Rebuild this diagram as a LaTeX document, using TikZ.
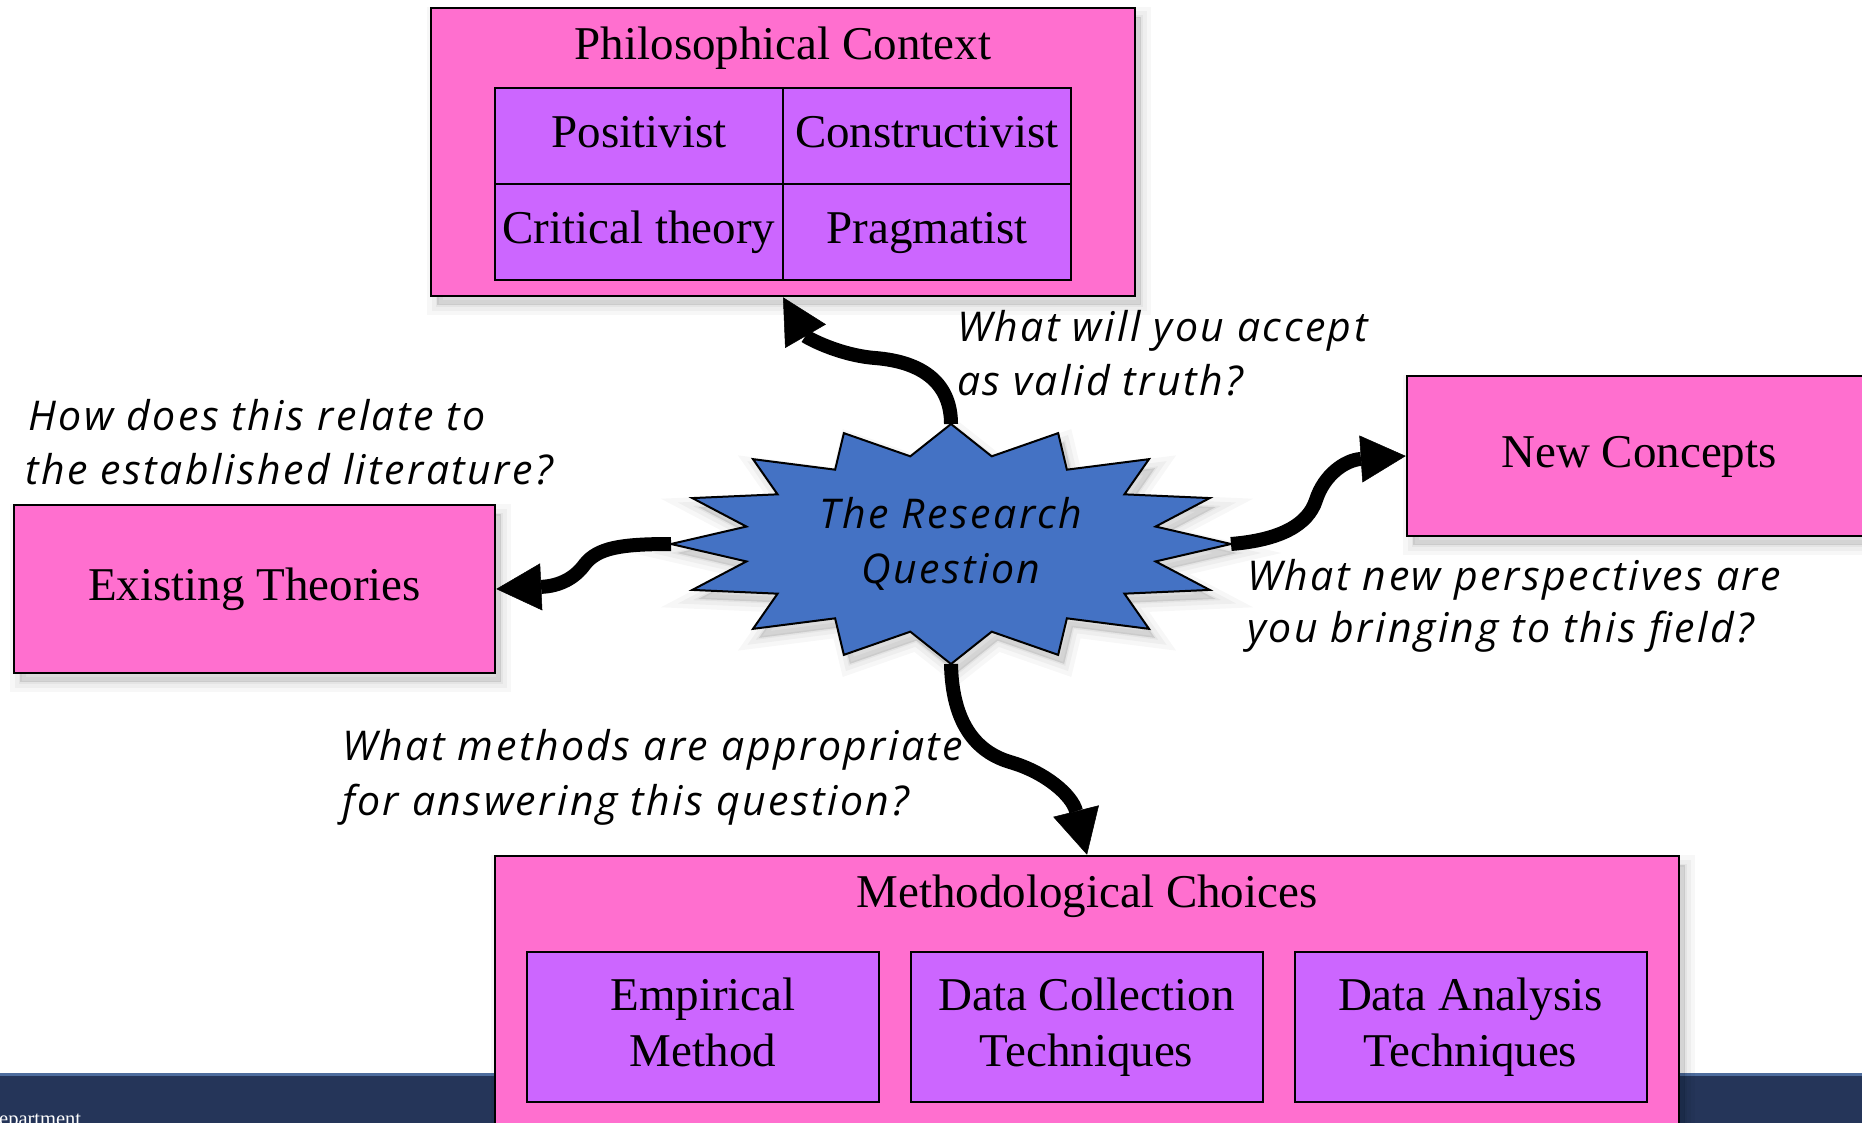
\documentclass[tikz,border=0pt]{standalone}
\usepackage{fontspec}
\setmainfont{Liberation Serif}
\newfontfamily\handfont{Open Sans}[LetterSpace=6.0]
\usetikzlibrary{arrows.meta}
\definecolor{boxpink}{HTML}{FF6FCF}
\definecolor{boxpurple}{HTML}{CC66FF}
\definecolor{starblue}{HTML}{4472C4}
\definecolor{barblue}{HTML}{253559}
\definecolor{barline}{HTML}{4E6D9E}
\tikzset{
  softshadow/.style={
    preaction={draw=black, draw opacity=0.03, line width=20pt, fill=black, fill opacity=0.03, transform canvas={shift={(6pt,-9pt)}}},
    preaction={draw=black, draw opacity=0.035, line width=11pt, fill=black, fill opacity=0.035, transform canvas={shift={(6pt,-9pt)}}},
    preaction={draw=black, draw opacity=0.04, line width=3pt, fill=black, fill opacity=0.04, transform canvas={shift={(6pt,-9pt)}}}},
  bigtext/.style={font=\fontsize{47}{56}\selectfont},
  outerbox/.style={softshadow, draw=black, line width=2.5pt, fill=boxpink, inner sep=0pt, bigtext, text height=33pt, text depth=10pt},
  cellbox/.style={draw=black, line width=2pt, fill=boxpurple, inner sep=0pt, bigtext, minimum width=288pt, minimum height=96pt, text height=33pt, text depth=10pt},
  methbox/.style={draw=black, line width=2pt, fill=boxpurple, inner sep=0pt, bigtext, align=center, minimum width=352pt, minimum height=150pt},
  titletext/.style={bigtext, anchor=base, inner sep=0pt},
  handtext/.style={font=\handfont\itshape\fontsize{41}{55}\selectfont, anchor=base west, inner sep=0pt},
  bigarrow/.style={line width=14pt, -{Triangle[length=45pt, width=47pt, line width=0.5pt]}}
}
\begin{document}
\begin{tikzpicture}[x=1pt, y=-1pt]
\useasboundingbox (0,0) rectangle (1862,1123);
\clip (0,0) rectangle (1862,1123);
\fill[white] (0,0) rectangle (1862,1123);
% bottom bar
\fill[barline] (0,1073) rectangle (1862,1076);
\fill[barblue] (0,1076) rectangle (1862,1130);
\node[anchor=base west, text=white, font=\fontsize{20.5}{24}\selectfont, inner sep=0pt] (dept) at (-1,1125) {epartment};

% outer boxes
\node[outerbox, minimum width=704pt, minimum height=288pt] (phil) at (783,152) {};
\node[titletext] (philt) at (783,60) {Philosophical Context};
\node[cellbox] (pos) at (639,136) {Positivist};
\node[cellbox] (con) at (927,136) {Constructivist};
\node[cellbox] (crit) at (639,232) {Critical theory};
\node[cellbox] (prag) at (927,232) {Pragmatist};

\node[outerbox, minimum width=481pt, minimum height=168pt] (exist) at (254.5,589) {Existing Theories};
\node[outerbox, minimum width=464pt, minimum height=160pt] (newc) at (1639,456) {New Concepts};

\node[outerbox, minimum width=1184pt, minimum height=300pt] (meth) at (1087,1006) {};
\node[titletext] (metht) at (1087,907) {Methodological Choices};
\node[methbox] (emp) at (703,1027) {Empirical\\Method\vphantom{q}};
\node[methbox] (dcol) at (1086.5,1027) {Data Collection\\Techniques};
\node[methbox] (dana) at (1470.5,1027) {Data Analysis\\Techniques};

% star
\draw[softshadow, fill=starblue, draw=black, line width=2pt]
  plot[samples at={0,...,31}] ({951+280*(1-0.255*mod(\x,2))*cos(\x*11.25)}, {544+120*(1-0.255*mod(\x,2))*sin(\x*11.25)}) -- cycle;
\node[font=\handfont\itshape\fontsize{41}{55}\selectfont, align=center, inner sep=0pt] (rq) at (951,544) {The Research\\Question};
\coordinate (rqN) at (951,424);
\coordinate (rqS) at (951,664);
\coordinate (rqW) at (671,544);
\coordinate (rqE) at (1231,544);

% arrows
\draw[bigarrow] (rqN) .. controls (951,385) and (925,362) .. (875,358) .. controls (838,355) and (806,337) .. (phil.south);
\draw[bigarrow] (rqW) .. controls (620,544) and (598,548) .. (585,564) .. controls (575,578) and (560,586) .. (exist.east);
\draw[bigarrow] (rqE) .. controls (1280,540) and (1308,525) .. (1316,500) .. controls (1324,475) and (1345,460) .. (newc.west);
\draw[bigarrow] (rqS) .. controls (952,715) and (970,750) .. (1010,762) .. controls (1045,772) and (1072,795) .. (meth.north);

% questions
\node[handtext] (q1a) at (957,341) {What will you accept};
\node[handtext] (q1b) at (957,395) {as valid truth?};
\node[handtext] (q2a) at (28,430) {How does this relate to};
\node[handtext] (q2b) at (25,484) {the established literature?};
\node[handtext] (q3a) at (1247,590) {What new perspectives are};
\node[handtext] (q3b) at (1247,642) {you bringing to this field?};
\node[handtext] (q4a) at (342,760) {What methods are appropriate};
\node[handtext] (q4b) at (342,815) {for answering this question?};
\end{tikzpicture}
\end{document}
